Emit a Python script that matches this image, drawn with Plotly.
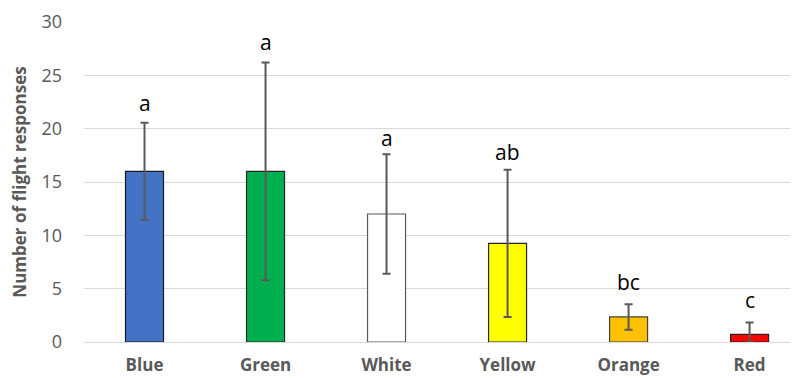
import plotly.graph_objects as go

categories = ["Blue", "Green", "White", "Yellow", "Orange", "Red"]
means = [16.0, 16.0, 12.0, 9.25, 2.35, 0.72]
errors = [4.55, 10.2, 5.6, 6.9, 1.2, 1.1]
letters = ["a", "a", "a", "ab", "bc", "c"]
letter_y = [22.4, 28.1, 19.1, 17.8, 5.6, 3.9]
fill_colors = ["#4472C4", "#00B050", "#FFFFFF", "#FFFF00", "#FFC000", "#FF0000"]
line_colors = ["#1a1a1a", "#262626", "#595959", "#262626", "#404040", "#262626"]

err_minus = [min(e, m) for e, m in zip(errors, means)]

fig = go.Figure()
fig.add_trace(go.Bar(
    x=categories, y=means, width=0.314,
    marker=dict(color=fill_colors, line=dict(color=line_colors, width=1.2)),
    error_y=dict(type="data", array=errors, arrayminus=err_minus, symmetric=False,
                 color="#595959", thickness=2, width=4),
    showlegend=False,
))

for c, l, yv in zip(categories, letters, letter_y):
    fig.add_annotation(x=c, y=yv, text=l, showarrow=False,
                       font=dict(family="Open Sans, Arial", size=21, color="#000000"),
                       yanchor="middle")

fig.update_layout(
    width=790, height=370,
    margin=dict(l=76, r=0, t=14, b=36),
    plot_bgcolor="white", paper_bgcolor="white",
    bargap=0.5,
)
fig.update_xaxes(
    range=[-0.5, 5.4], showgrid=False, showline=False, zeroline=False,
    tickfont=dict(family="Open Sans, Arial", size=17, color="#595959", weight="bold"),
    ticks="", ticklabelstandoff=11, automargin=False,
)
fig.update_yaxes(
    range=[0, 30], dtick=5, showgrid=True, gridcolor="#d9d9d9", gridwidth=1,
    zeroline=True, zerolinecolor="#d9d9d9", zerolinewidth=1, showline=False,
    tickfont=dict(family="Open Sans, Arial", size=18, color="#595959"),
    ticks="", ticklabelstandoff=21, automargin=False,
    title=dict(text="Number of flight responses", standoff=10,
               font=dict(family="Open Sans, Arial", size=17, color="#595959", weight="bold")),
)

fig.write_html("out.html")
